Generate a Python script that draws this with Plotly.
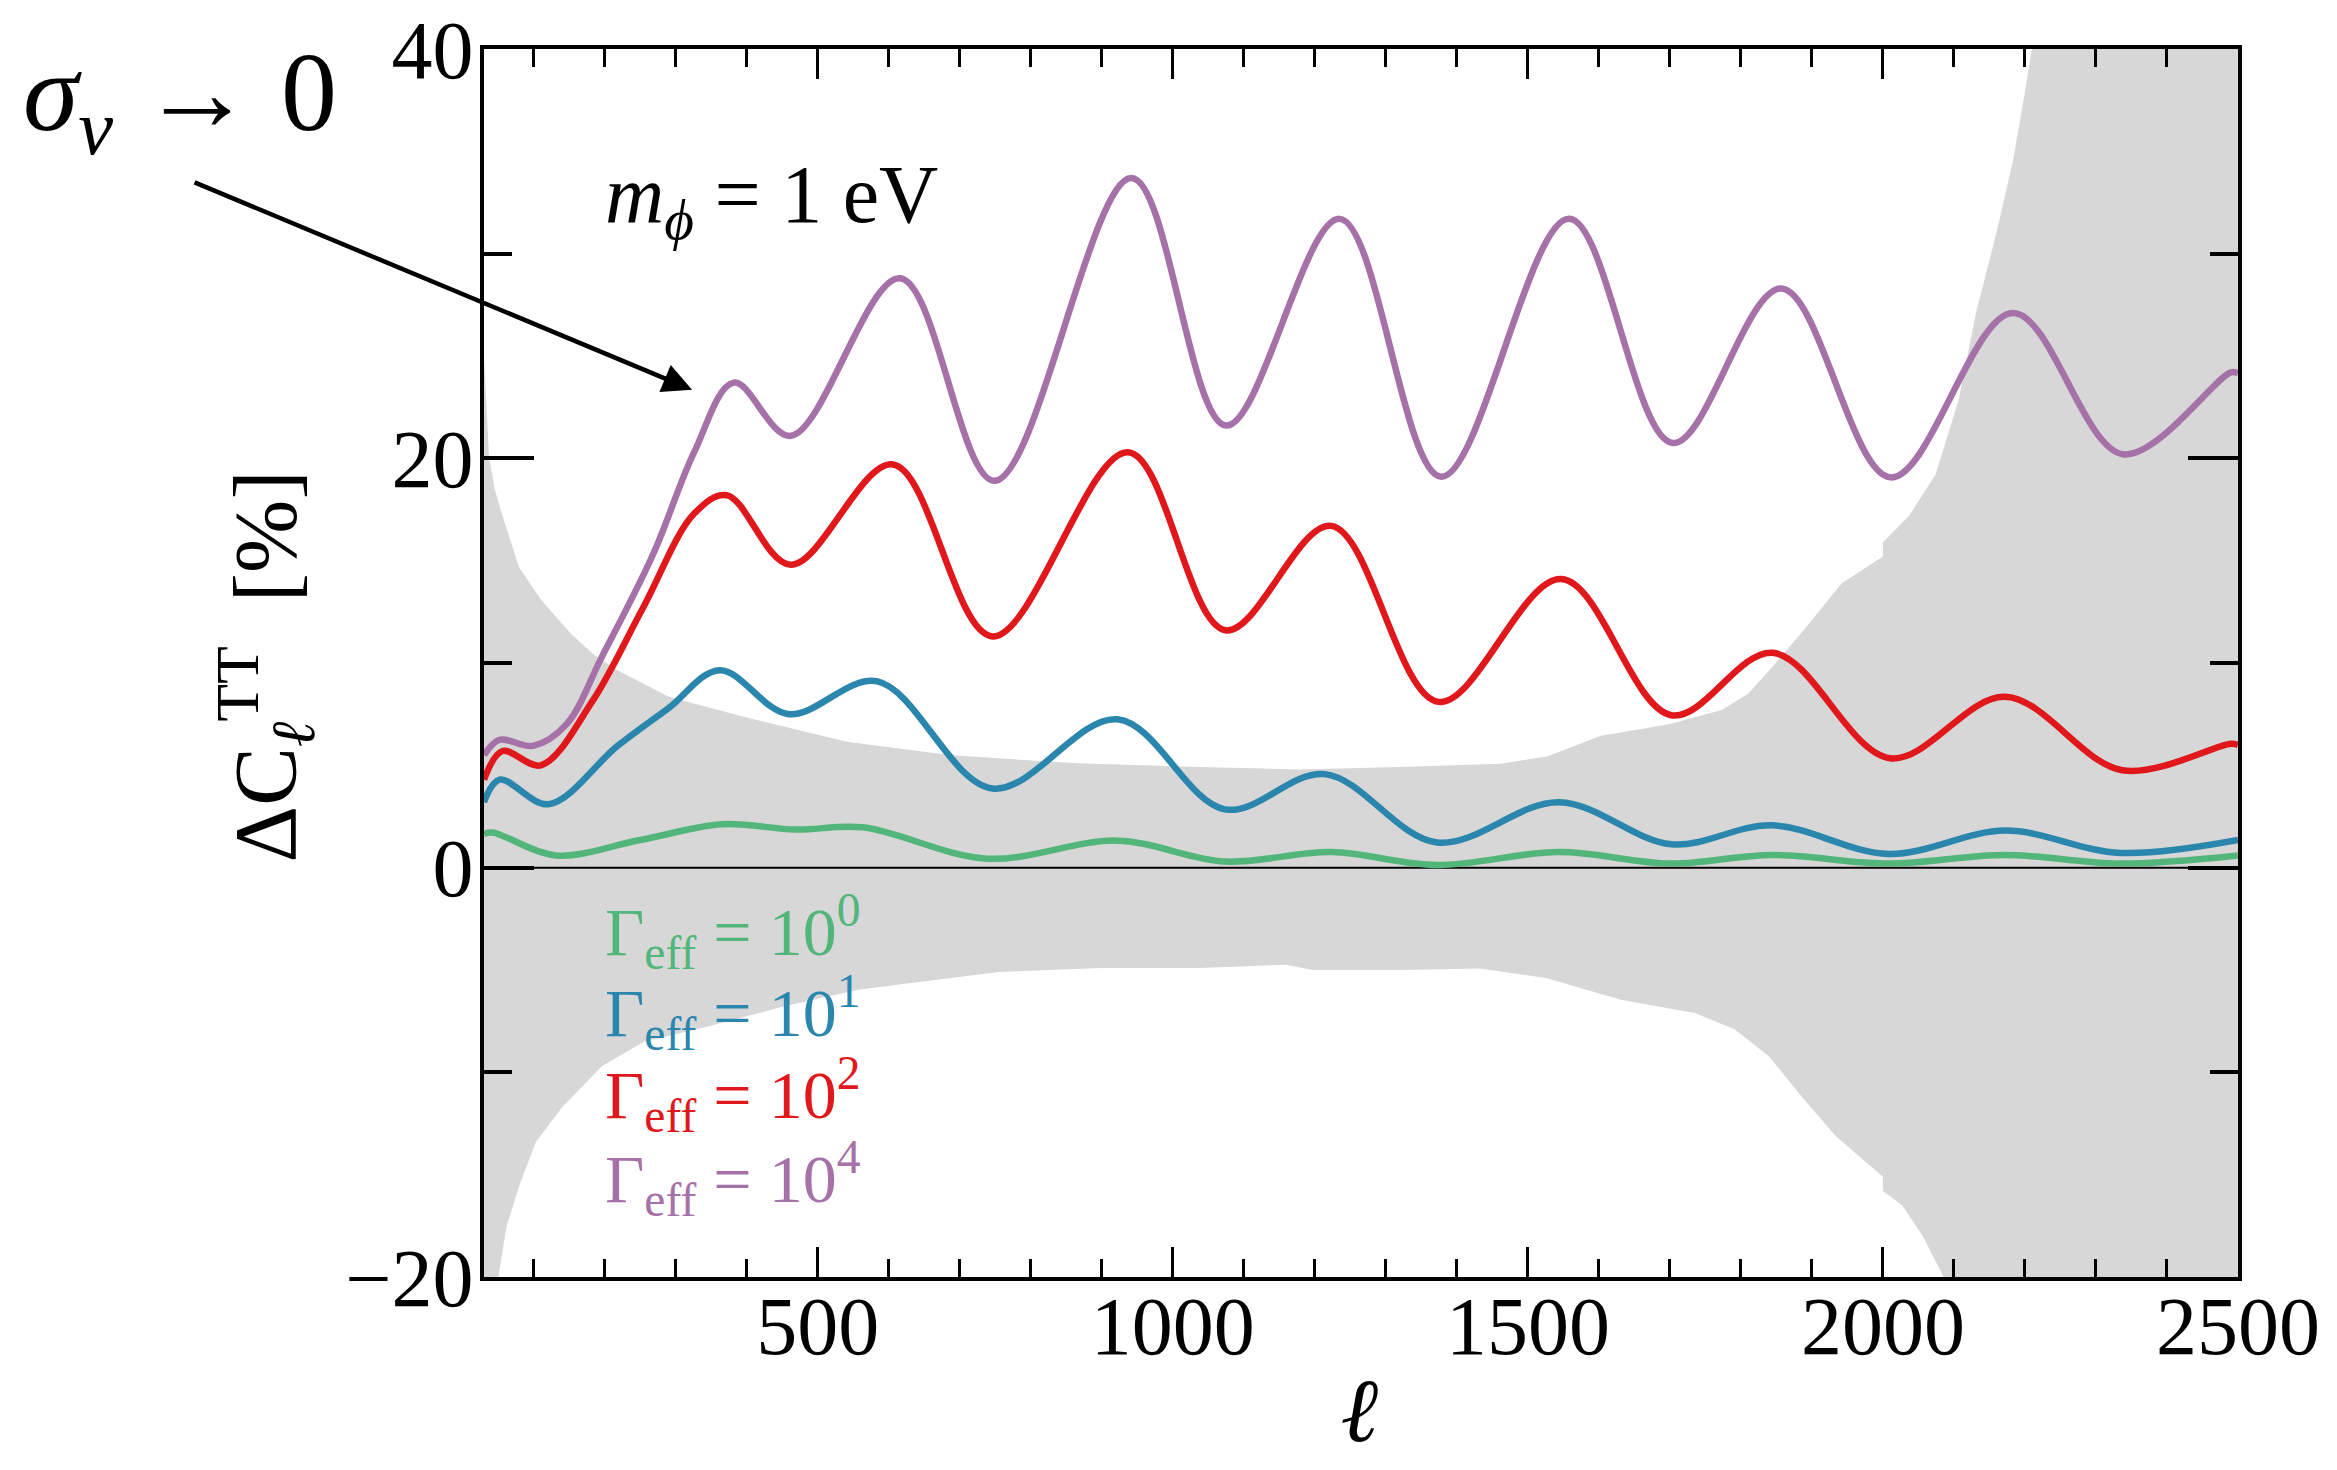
import plotly.graph_objects as go

# ---------------- data ----------------
X_RANGE = [30, 2500]
Y_RANGE = [-20, 40]
X_TICKS = [500, 1000, 1500, 2000, 2500]
Y_TICKS = [-20, 0, 20, 40]

# shaded uncertainty band (upper / lower edges)
band_upper_l = [30, 33, 37, 45, 56, 79, 110, 153, 185, 218, 290, 397, 541, 685, 865,
                1037, 1178, 1320, 1461, 1527, 1603, 1697, 1773, 1810, 1839, 1886, 1942, 2000,
                2000, 2037, 2074, 2107, 2131, 2159, 2183, 2200, 2212, 2240, 2500]
band_upper_v = [25, 23, 20.1, 18.5, 17.2, 14.7, 13.1, 11.4, 10.4, 9.65, 8.35, 7.36,
                6.15, 5.5, 5.1, 4.92, 4.8, 4.92, 5.08, 5.43, 6.44, 7.0, 7.7, 8.5, 9.6, 11.5,
                13.9, 15.2, 15.9, 17.2, 19.2, 22.9, 27.1, 30.9, 34.5, 37.9, 40.5, 48, 48]
band_lower_l = [30, 40, 51, 62, 79, 103, 140, 196, 255, 341, 450, 557, 755, 900, 1037,
                1159, 1197, 1320, 1433, 1527, 1631, 1735, 1791, 1839, 1886, 1933, 2000, 2000,
                2027, 2056, 2084, 2120, 2200, 2500]
band_lower_v = [-30, -25, -19.8, -17.5, -15.6, -13.4, -11.7, -9.7, -8.5, -7.8,
                -6.8, -5.96, -5.1, -4.9, -4.9, -4.74, -5.0, -5.0, -4.93, -5.4, -6.45, -7.1,
                -7.9, -9.2, -11.2, -13.1, -15.1, -15.8, -16.5, -18.0, -19.9, -23, -30, -30]

# Gamma_eff = 10^4 (purple)
g4_l = [30, 52, 99, 146, 196, 268, 326, 382, 462, 616, 749, 942, 1075, 1235, 1378, 1558,
        1704, 1857, 2011, 2183, 2338, 2490, 2500]
g4_v = [5.5, 6.25, 5.95, 7.0, 10.3, 15.3, 20.3, 23.7, 21.1, 28.8, 18.9, 33.7, 21.6, 31.7,
        19.1, 31.7, 20.75, 28.3, 19.07, 27.1, 20.2, 24.2, 24.15]

# Gamma_eff = 10^2 (red)
g2_l = [30, 56, 110, 182, 254, 326, 372, 462, 606, 746, 937, 1074, 1223, 1374, 1547, 1702,
        1845, 2010, 2172, 2337, 2490, 2500]
g2_v = [4.3, 5.7, 5.0, 8.1, 12.7, 17.3, 18.2, 14.8, 19.7, 11.3, 20.3, 11.6, 16.7, 8.1, 14.1,
        7.45, 10.5, 5.35, 8.35, 4.76, 6.05, 6.0]

# Gamma_eff = 10^1 (blue)
g1_l = [30, 52, 121, 218, 290, 362, 459, 584, 746, 922, 1073, 1214, 1372, 1544, 1702, 1843,
        2008, 2172, 2334, 2500]
g1_v = [3.2, 4.3, 3.1, 5.95, 7.8, 9.65, 7.5, 9.1, 3.87, 7.25, 2.85, 4.57, 1.23, 3.2, 1.14,
        2.07, 0.67, 1.81, 0.72, 1.35]

# Gamma_eff = 10^0 (green)
g0_l = [30, 42, 131, 250, 365, 469, 563, 739, 922, 1073, 1223, 1372, 1543, 1702, 1843, 2008,
        2172, 2334, 2500]
g0_v = [1.65, 1.72, 0.6, 1.35, 2.12, 1.86, 1.97, 0.44, 1.32, 0.3, 0.76, 0.13, 0.76, 0.2,
        0.62, 0.2, 0.62, 0.2, 0.6]

series = [
    ("Γ<sub>eff</sub> = 10<sup>0</sup>", g0_l, g0_v, "#52b57a", -3.1),
    ("Γ<sub>eff</sub> = 10<sup>1</sup>", g1_l, g1_v, "#2a86ad", -7.1),
    ("Γ<sub>eff</sub> = 10<sup>2</sup>", g2_l, g2_v, "#e0181c", -11.1),
    ("Γ<sub>eff</sub> = 10<sup>4</sup>", g4_l, g4_v, "#a671a9", -15.2),
]

FONT = "Liberation Serif"

fig = go.Figure()

# band polygon
fig.add_trace(go.Scatter(
    x=band_upper_l + band_lower_l[::-1],
    y=band_upper_v + band_lower_v[::-1],
    mode="lines", fill="toself", fillcolor="#d7d7d7",
    line=dict(width=0, color="#d7d7d7"), hoverinfo="skip", showlegend=False))

# zero reference line
fig.add_trace(go.Scatter(x=X_RANGE, y=[0, 0], mode="lines",
                         line=dict(color="black", width=2), hoverinfo="skip",
                         showlegend=False))

for name, lx, vy, col, _ in series:
    fig.add_trace(go.Scatter(x=lx, y=vy, mode="lines", name=name,
                             line=dict(color=col, width=6.5, shape="spline", smoothing=1.0),
                             showlegend=False))

annotations = []
for name, _, _, col, ypos in series:
    annotations.append(dict(x=197, y=ypos, xref="x", yref="y", text=name, showarrow=False,
                            xanchor="left", yanchor="middle",
                            font=dict(family=FONT, size=68, color=col)))

annotations.append(dict(x=197, y=32.6, xref="x", yref="y",
                        text="<i>m</i><sub><i>ϕ</i></sub> = 1 eV", showarrow=False,
                        xanchor="left", yanchor="middle",
                        font=dict(family=FONT, size=82, color="black")))

annotations.append(dict(x=-0.1733, y=0.958, xref="paper", yref="paper",
                        text="<i>σ</i><sub><i>ν</i></sub> → 0", showarrow=False,
                        xanchor="center", yanchor="middle",
                        font=dict(family=FONT, size=112, color="black")))

annotations.append(dict(x=323, y=23.35, xref="x", yref="y", text="", showarrow=True,
                        ax=-499, ay=-208, arrowhead=2, arrowsize=1.3, arrowwidth=4.5,
                        arrowcolor="black", standoff=0, startstandoff=0))

annotations.append(dict(x=-0.125, y=0.497, xref="paper", yref="paper",
                        text="ΔC<sub><i>ℓ</i></sub><sup>TT</sup>  [%]", showarrow=False,
                        textangle=-90, xanchor="center", yanchor="middle",
                        font=dict(family=FONT, size=88, color="black")))

annotations.append(dict(x=0.5, y=-0.1505, xref="paper", yref="paper",
                        text="<b><i>ℓ</i></b>", showarrow=False,
                        xanchor="center", yanchor="bottom",
                        font=dict(family=FONT, size=90, color="black")))

# page body has an 8px margin: size the figure so it fits the window exactly
fig.update_layout(
    width=2321, height=1454,
    margin=dict(l=476, r=91, t=41, b=185, autoexpand=False),
    paper_bgcolor="white", plot_bgcolor="white",
    font=dict(family=FONT, size=82, color="black"),
    annotations=annotations,
    showlegend=False,
)

fig.update_xaxes(
    range=X_RANGE, tickvals=X_TICKS, ticks="inside", ticklen=30, tickwidth=3,
    tickcolor="black", showline=True, linewidth=4, linecolor="black", mirror="ticks",
    showgrid=False, zeroline=False, tickfont=dict(family=FONT, size=82, color="black"),
    ticklabelstandoff=-25, ticklabeloverflow="allow", automargin=False,
    minor=dict(dtick=100, tick0=0, ticks="inside", ticklen=18, tickwidth=3,
               tickcolor="black", showgrid=False),
)
fig.update_yaxes(
    range=Y_RANGE, tickvals=Y_TICKS, ticks="inside", ticklen=50, tickwidth=4,
    tickcolor="black", showline=True, linewidth=4, linecolor="black", mirror="ticks",
    showgrid=False, zeroline=False, tickfont=dict(family=FONT, size=82, color="black"),
    ticklabelstandoff=-10, ticklabeloverflow="allow", automargin=False,
    minor=dict(dtick=10, tick0=0, ticks="inside", ticklen=28, tickwidth=4,
               tickcolor="black", showgrid=False),
)

fig.write_html("out.html")
